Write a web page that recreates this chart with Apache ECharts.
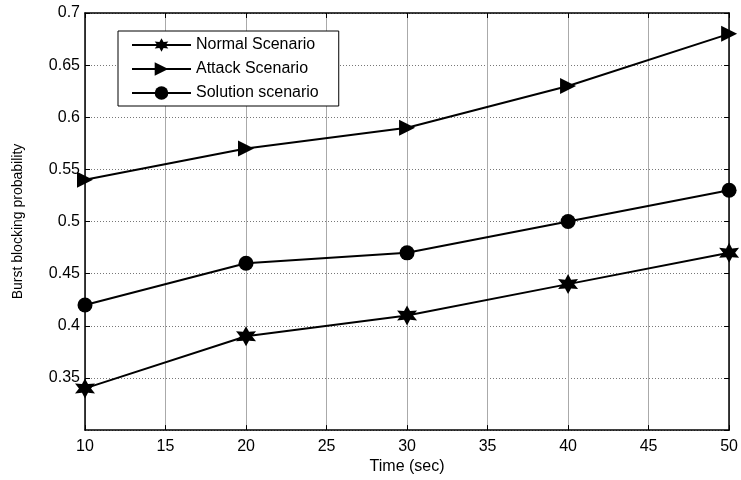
<!DOCTYPE html>
<html>
<head>
    <meta charset="utf-8" />
    <title>Burst blocking probability</title>
    <script src="https://cdn.jsdelivr.net/npm/echarts@6/dist/echarts.min.js"></script>
    <style>
        html, body { margin: 0; padding: 0; background: #fff; }
        #content { width: 741px; height: 480px; }
    </style>
</head>
<body>
    <div id="content"></div>
    <script type="text/javascript">
        var times = [10, 20, 30, 40, 50];
        var normalScenario = [0.34, 0.39, 0.41, 0.44, 0.47];
        var attackScenario = [0.54, 0.57, 0.59, 0.63, 0.68];
        var solutionScenario = [0.42, 0.46, 0.47, 0.50, 0.53];

        // six-pointed star, like the matlab hexagram marker
        var star = 'path://M50,0 L63,28 L93,25 L76,50 L93,75 L63,72 L50,100 L37,72 L7,75 L24,50 L7,25 L37,28 Z';
        var font = 'Liberation Sans, Arial, sans-serif';

        function pairs(arr) {
            var out = [];
            for (var i = 0; i < arr.length; i++) {
                out.push([times[i], arr[i]]);
            }
            return out;
        }

        function line(name, data, symbol, size, rotate) {
            return {
                name: name,
                type: 'line',
                data: pairs(data),
                symbol: symbol,
                symbolSize: size,
                symbolRotate: rotate || 0,
                showAllSymbol: true,
                lineStyle: { color: '#000', width: 2 },
                itemStyle: { color: '#000', borderWidth: 0 },
                emphasis: { disabled: true }
            };
        }

        var myChart = echarts.init(document.getElementById('content'));
        myChart.setOption({
            animation: false,
            grid: { left: 85, right: 10, top: 13, bottom: 48, containLabel: false },
            legend: {
                left: 118,
                top: 31,
                orient: 'vertical',
                itemWidth: 59,
                itemHeight: 17,
                itemGap: 8,
                itemStyle: { color: '#000' },
                padding: [6, 20, 5, 13],
                borderColor: '#000',
                borderWidth: 1,
                backgroundColor: '#fff',
                textStyle: { fontFamily: font, fontSize: 16, color: '#000' },
                data: ['Normal Scenario', 'Attack Scenario', 'Solution scenario']
            },
            xAxis: [{
                type: 'value',
                min: 10,
                max: 50,
                interval: 5,
                name: 'Time (sec)',
                nameLocation: 'middle',
                nameGap: 28,
                nameTextStyle: { fontFamily: font, fontSize: 16, color: '#000' },
                axisLine: { show: true, onZero: false, lineStyle: { color: '#000', width: 1.5 } },
                axisTick: { show: true, inside: true, length: 5, lineStyle: { color: '#000' } },
                axisLabel: { fontFamily: font, fontSize: 16, color: '#000', margin: 8 },
                splitLine: { show: true, lineStyle: { color: '#aaa', type: 'solid', width: 1 } }
            }, {
                type: 'value',
                position: 'top',
                min: 10,
                max: 50,
                interval: 5,
                axisLine: { show: true, onZero: false, lineStyle: { color: '#000', width: 1.5 } },
                axisTick: { show: true, inside: true, length: 5, lineStyle: { color: '#000' } },
                axisLabel: { show: false },
                splitLine: { show: false }
            }],
            yAxis: [{
                type: 'value',
                min: 0.3,
                max: 0.7,
                interval: 0.05,
                name: 'Burst blocking probability',
                nameLocation: 'middle',
                nameGap: 60,
                nameTextStyle: { fontFamily: font, fontSize: 14, color: '#000' },
                axisLine: { show: true, onZero: false, lineStyle: { color: '#000', width: 1.5 } },
                axisTick: { show: true, inside: true, length: 5, lineStyle: { color: '#000' } },
                axisLabel: {
                    fontFamily: font, fontSize: 16, color: '#000', margin: 5,
                    showMinLabel: false,
                    formatter: function (v) { return parseFloat(v.toFixed(2)).toString(); }
                },
                splitLine: { show: true, lineStyle: { color: '#777', type: [1, 2], width: 1 } }
            }, {
                type: 'value',
                position: 'right',
                min: 0.3,
                max: 0.7,
                interval: 0.05,
                axisLine: { show: true, onZero: false, lineStyle: { color: '#000', width: 1.5 } },
                axisTick: { show: true, inside: true, length: 5, lineStyle: { color: '#000' } },
                axisLabel: { show: false },
                splitLine: { show: false }
            }],
            series: [
                line('Normal Scenario', normalScenario, star, 20),
                line('Attack Scenario', attackScenario, 'triangle', 16, -90),
                line('Solution scenario', solutionScenario, 'circle', 15)
            ]
        });
    </script>
</body>
</html>
